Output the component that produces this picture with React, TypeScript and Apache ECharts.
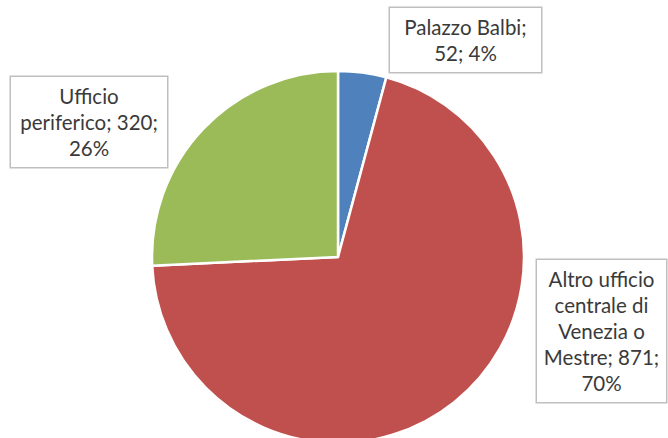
import React, { useEffect, useRef } from "react";
import * as echarts from "echarts";

// Slices in clockwise order starting at 12 o'clock
const categories = ["Palazzo Balbi", "Altro ufficio centrale di Venezia o Mestre", "Ufficio periferico"];
const values = [52, 871, 320];
const colors = ["#4F81BD", "#C0504D", "#9BBB59"];
// Line-broken label text (value and percent filled in by the formatter)
const labelNameLines = [
  ["Palazzo Balbi;", "{v}; {p}%"],
  ["Altro ufficio", "centrale di", "Venezia o", "Mestre; {v};", "{p}%"],
  ["Ufficio", "periferico; {v};", "{p}%"],
];

export default function App() {
  const ref = useRef<HTMLDivElement>(null);
  useEffect(() => {
    if (!ref.current) return;
    const chart = echarts.init(ref.current, null, { renderer: "svg" });
    const total = values.reduce((a, b) => a + b, 0);
    const labelCenters = [
      [465.5, 40],
      [601.5, 331],
      [89, 122],
    ];
    const labelWidths = [151, 129, 156];
    chart.setOption({
      animation: false,
      series: [
        {
          type: "pie",
          center: [338, 257],
          radius: 186,
          startAngle: 90,
          clockwise: true,
          itemStyle: { borderColor: "#ffffff", borderWidth: 2.5 },
          labelLine: { show: false },
          label: {
            show: true,
            position: "outside",
            overflow: "none",
            fontFamily: "Lato",
            fontSize: 20.5,
            lineHeight: 26,
            color: "#3a3a3a",
            backgroundColor: "#ffffff",
            borderColor: "#BFBFBF",
            borderWidth: 1.5,
            padding: [6, 0, 6, 0],
            align: "center",
            formatter: (p: any) => {
              const pct = Math.round((values[p.dataIndex] / total) * 100);
              return labelNameLines[p.dataIndex]
                .join("\n")
                .replace("{v}", String(p.value))
                .replace("{p}", String(pct));
            },
          },
          labelLayout: (params: any) => ({
            x: labelCenters[params.dataIndex][0],
            y: labelCenters[params.dataIndex][1],
            align: "center",
            verticalAlign: "middle",
          }),
          data: categories.map((name, i) => ({
            name,
            value: values[i],
            itemStyle: { color: colors[i] },
            label: { width: labelWidths[i] },
          })),
        },
      ],
    });
    return () => chart.dispose();
  }, []);
  return (
    <div
      ref={ref}
      style={{ position: "absolute", left: 0, top: 0, width: 668, height: 438, background: "#ffffff" }}
    />
  );
}
